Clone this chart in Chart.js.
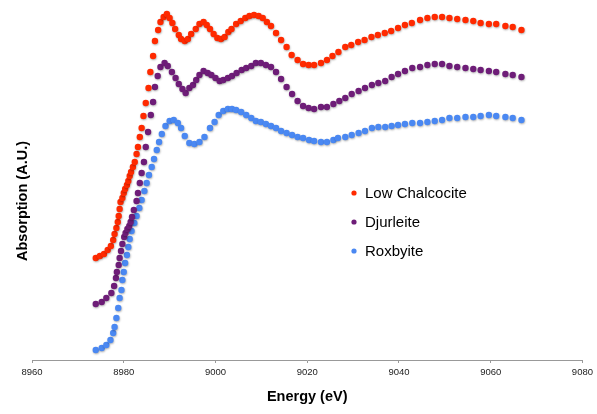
<!DOCTYPE html>
<html lang="en">
<head>
  <meta charset="UTF-8" />
  <title>Cu K-edge XANES - Copper Sulfides</title>
  <script src="https://cdn.jsdelivr.net/npm/chart.js"></script>
  <style>
    html, body { margin: 0; padding: 0; background: #fff; }
    #wrap { width: 597px; height: 414px; }
  </style>
</head>
<body>
  <div id="wrap"><canvas id="xanesChart" width="597" height="414"></canvas></div>

  <script>
    // x axis ticks (eV)
    const energyTicks = [8960, 8980, 9000, 9020, 9040, 9060, 9080];

    const seriesNames = ['Low Chalcocite', 'Djurleite', 'Roxbyite'];
    const seriesColors = ['#ff2a00', '#6e1d78', '#4a88f2'];

    // Low Chalcocite
    const lowChalcociteE = [8973.9, 8974.8, 8975.7, 8976.5, 8977.2, 8977.7, 8978.0, 8978.4, 8978.7, 8978.9,
      8979.1, 8979.3, 8979.7, 8980.0, 8980.3, 8980.7, 8981.0, 8981.3, 8981.6, 8982.0,
      8982.4, 8982.8, 8983.1, 8983.5, 8983.9, 8984.3, 8984.8, 8985.4, 8985.8, 8986.4,
      8986.8, 8987.5, 8988.0, 8988.7, 8989.4, 8990.0, 8990.6, 8991.2, 8992.0, 8992.5,
      8993.3, 8994.0, 8994.7, 8995.7, 8996.5, 8997.4, 8998.1, 8998.8, 8999.6, 9000.4,
      9001.2, 9002.0, 9002.8, 9003.5, 9004.5, 9005.5, 9006.5, 9007.4, 9008.4, 9009.4,
      9010.3, 9011.2, 9012.1, 9013.2, 9014.3, 9015.5, 9016.6, 9017.9, 9019.1, 9020.3,
      9021.5, 9023.0, 9024.3, 9025.5, 9026.8, 9028.3, 9029.6, 9031.1, 9032.5, 9034.0,
      9035.4, 9036.9, 9038.3, 9039.8, 9041.3, 9042.8, 9044.6, 9046.2, 9047.8, 9049.4,
      9051.0, 9052.7, 9054.5, 9056.2, 9057.8, 9059.6, 9061.2, 9063.2, 9064.8, 9066.7];
    const lowChalcociteA = [1.02, 1.04, 1.06, 1.10, 1.14, 1.20, 1.26, 1.32, 1.38, 1.44,
      1.51, 1.58, 1.62, 1.67, 1.71, 1.75, 1.79, 1.84, 1.88, 1.93,
      1.98, 2.06, 2.13, 2.23, 2.32, 2.44, 2.57, 2.72, 2.88, 3.04,
      3.19, 3.30, 3.38, 3.43, 3.46, 3.42, 3.37, 3.31, 3.25, 3.21,
      3.19, 3.21, 3.26, 3.31, 3.36, 3.38, 3.35, 3.31, 3.26, 3.22,
      3.21, 3.23, 3.28, 3.31, 3.36, 3.39, 3.42, 3.44, 3.45, 3.44,
      3.42, 3.38, 3.34, 3.27, 3.20, 3.13, 3.05, 3.00, 2.96, 2.95,
      2.95, 2.97, 3.00, 3.04, 3.08, 3.13, 3.15, 3.18, 3.20, 3.23,
      3.25, 3.27, 3.29, 3.32, 3.35, 3.37, 3.40, 3.42, 3.43, 3.43,
      3.42, 3.41, 3.40, 3.39, 3.37, 3.36, 3.36, 3.34, 3.33, 3.30];

    // Djurleite
    const djurleiteE = [8973.9, 8975.2, 8976.2, 8977.3, 8977.9, 8978.3, 8978.5, 8978.9, 8979.1, 8979.4,
      8979.7, 8980.1, 8980.4, 8980.8, 8981.2, 8981.5, 8981.8, 8982.2, 8982.8, 8983.1,
      8983.5, 8983.9, 8984.4, 8984.8, 8985.3, 8985.9, 8986.4, 8986.8, 8987.4, 8988.0,
      8988.9, 8989.6, 8990.5, 8991.3, 8992.0, 8992.8, 8993.5, 8994.3, 8995.1, 8995.8,
      8996.5, 8997.4, 8998.3, 8999.1, 9000.0, 9000.9, 9001.7, 9002.7, 9003.6, 9004.6,
      9005.7, 9006.7, 9007.8, 9008.8, 9009.9, 9011.0, 9012.1, 9013.2, 9014.3, 9015.5,
      9016.7, 9017.9, 9019.1, 9020.3, 9021.5, 9023.0, 9024.3, 9025.7, 9027.0, 9028.3,
      9029.7, 9031.2, 9032.6, 9034.1, 9035.5, 9037.0, 9038.4, 9039.8, 9041.3, 9042.9,
      9044.6, 9046.2, 9047.8, 9049.4, 9051.0, 9052.7, 9054.5, 9056.2, 9057.8, 9059.6,
      9061.2, 9063.2, 9064.8, 9066.7];
    const djurleiteA = [0.56, 0.58, 0.62, 0.67, 0.74, 0.82, 0.88, 0.95, 1.02, 1.09,
      1.16, 1.23, 1.27, 1.31, 1.34, 1.38, 1.43, 1.50, 1.59, 1.67,
      1.77, 1.87, 1.98, 2.13, 2.28, 2.45, 2.58, 2.73, 2.84, 2.93,
      2.97, 2.94, 2.88, 2.82, 2.76, 2.71, 2.67, 2.72, 2.75, 2.80,
      2.85, 2.89, 2.87, 2.85, 2.82, 2.79, 2.80, 2.82, 2.84, 2.87,
      2.90, 2.92, 2.94, 2.97, 2.97, 2.95, 2.93, 2.88, 2.81, 2.73,
      2.66, 2.59, 2.54, 2.52, 2.51, 2.53, 2.53, 2.56, 2.59, 2.62,
      2.66, 2.69, 2.72, 2.75, 2.77, 2.79, 2.83, 2.86, 2.89, 2.92,
      2.93, 2.95, 2.96, 2.96, 2.94, 2.93, 2.92, 2.91, 2.90, 2.89,
      2.88, 2.86, 2.85, 2.83];

    // Roxbyite
    const roxbyiteE = [8973.9, 8975.2, 8976.2, 8977.1, 8977.7, 8978.0, 8978.4, 8978.8, 8979.1, 8979.5,
      8979.7, 8980.0, 8980.3, 8980.7, 8981.0, 8981.3, 8981.7, 8982.3, 8982.8, 8983.4,
      8983.9, 8984.5, 8985.0, 8985.5, 8986.1, 8986.6, 8987.2, 8987.7, 8988.3, 8989.1,
      8990.0, 8990.9, 8991.8, 8992.5, 8993.3, 8994.3, 8995.4, 8996.5, 8997.6, 8998.8,
      8999.8, 9000.7, 9001.7, 9002.7, 9003.6, 9004.5, 9005.6, 9006.7, 9007.8, 9008.8,
      9009.9, 9011.0, 9012.1, 9013.2, 9014.3, 9015.5, 9016.7, 9017.9, 9019.1, 9020.4,
      9021.5, 9023.0, 9024.3, 9025.7, 9026.7, 9028.3, 9029.7, 9031.2, 9032.6, 9034.1,
      9035.5, 9037.0, 9038.4, 9039.8, 9041.3, 9042.9, 9044.6, 9046.2, 9047.8, 9049.4,
      9051.0, 9052.7, 9054.5, 9056.2, 9057.8, 9059.6, 9061.2, 9063.2, 9064.8, 9066.7];
    const roxbyiteA = [0.10, 0.12, 0.15, 0.20, 0.27, 0.33, 0.42, 0.52, 0.62, 0.70,
      0.80, 0.88, 0.97, 1.05, 1.13, 1.21, 1.29, 1.37, 1.44, 1.52,
      1.60, 1.69, 1.77, 1.85, 1.93, 2.01, 2.10, 2.18, 2.26, 2.34,
      2.39, 2.40, 2.37, 2.32, 2.24, 2.17, 2.16, 2.18, 2.23, 2.32,
      2.38, 2.45, 2.49, 2.51, 2.51, 2.50, 2.48, 2.45, 2.42, 2.39,
      2.38, 2.36, 2.34, 2.32, 2.29, 2.27, 2.25, 2.23, 2.22, 2.20,
      2.19, 2.18, 2.18, 2.20, 2.22, 2.23, 2.25, 2.27, 2.29, 2.32,
      2.33, 2.33, 2.34, 2.35, 2.36, 2.37, 2.37, 2.38, 2.39, 2.40,
      2.42, 2.42, 2.43, 2.43, 2.44, 2.45, 2.44, 2.43, 2.42, 2.40];

    const energies = [lowChalcociteE, djurleiteE, roxbyiteE];
    const absorptions = [lowChalcociteA, djurleiteA, roxbyiteA];

    const yTitle = 'Absorption (A.U.)';
    const titleFont = 'bold 14.5px "Liberation Sans", Arial, sans-serif';

    function toPoints(xs, ys) {
      return xs.map((x, i) => ({ x: x, y: ys[i] }));
    }

    // soft drop shadow under the markers
    const dotShadow = {
      id: 'dotShadow',
      beforeDatasetsDraw(chart) {
        const c = chart.ctx;
        c.save();
        c.shadowColor = 'rgba(0,0,0,0.3)';
        c.shadowBlur = 2;
        c.shadowOffsetX = 0.5;
        c.shadowOffsetY = 1;
      },
      afterDatasetsDraw(chart) {
        chart.ctx.restore();
      }
    };

    // legend inside the plot, y title a bit below the plot's middle
    const extraText = {
      id: 'extraText',
      afterDraw(chart) {
        const c = chart.ctx;
        c.save();
        c.font = '15px "Liberation Sans", Arial, sans-serif';
        c.textBaseline = 'middle';
        chart.data.datasets.forEach((ds, i) => {
          const y = 193 + i * 29;
          c.fillStyle = ds.backgroundColor;
          c.beginPath();
          c.arc(354, y, 2.6, 0, Math.PI * 2);
          c.fill();
          c.fillStyle = '#000';
          c.fillText(ds.label, 365, y + 1);
        });

        c.translate(23, 201);
        c.rotate(-Math.PI / 2);
        c.font = titleFont;
        c.textAlign = 'center';
        c.fillText(yTitle, 0, 0);
        c.restore();
      }
    };

    const ctx = document.getElementById('xanesChart').getContext('2d');

    new Chart(ctx, {
      type: 'scatter',
      data: {
        datasets: seriesNames.map((name, i) => ({
          label: name,
          data: toPoints(energies[i], absorptions[i]),
          backgroundColor: seriesColors[i],
          pointBackgroundColor: seriesColors[i],
          pointBorderWidth: 0,
          pointRadius: 3.2,
          showLine: false,
          clip: false
        }))
      },
      options: {
        responsive: false,
        devicePixelRatio: 1,
        animation: false,
        layout: { padding: { top: 10, right: 13, left: 0, bottom: 0 } },
        plugins: {
          legend: { display: false },
          tooltip: { enabled: false }
        },
        scales: {
          x: {
            type: 'linear',
            min: energyTicks[0],
            max: energyTicks[energyTicks.length - 1],
            afterBuildTicks: s => { s.ticks = energyTicks.map(v => ({ value: v })); },
            ticks: {
              callback: v => String(v),
              font: { family: '"Liberation Sans", Arial, sans-serif', size: 9.5 },
              color: '#222',
              padding: 4,
              maxRotation: 0
            },
            grid: { drawOnChartArea: false, tickLength: 3, color: '#999' },
            border: { color: '#999' },
            title: {
              display: true,
              text: 'Energy (eV)',
              color: '#000',
              font: { family: '"Liberation Sans", Arial, sans-serif', size: 14.5, weight: 'bold' },
              padding: { top: 0, bottom: 8 }
            },
            afterFit: s => { s.height = 54; }
          },
          y: {
            min: 0,
            max: 3.5,
            ticks: { display: false },
            grid: { display: false },
            border: { display: false },
            title: { display: false },
            afterFit: s => { s.width = 32; }
          }
        }
      },
      plugins: [dotShadow, extraText]
    });
  </script>
</body>
</html>
